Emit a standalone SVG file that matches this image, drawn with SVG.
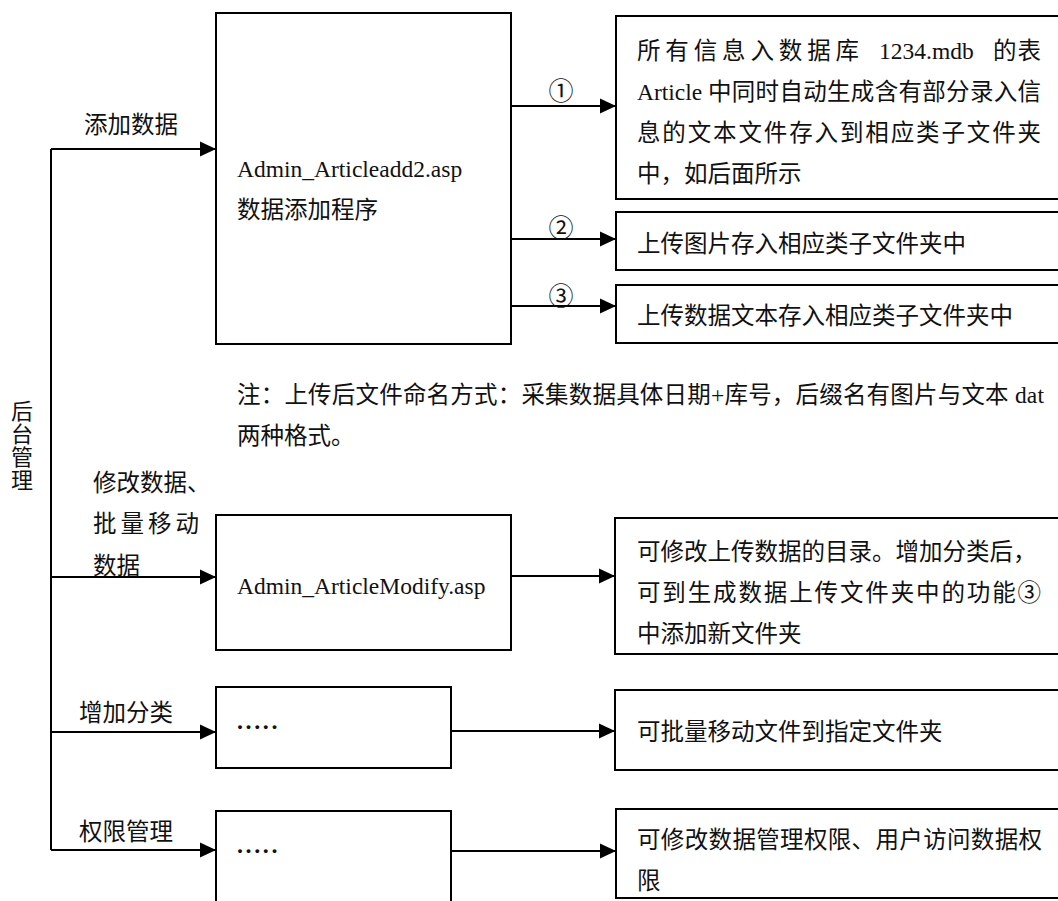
<svg xmlns="http://www.w3.org/2000/svg" width="1058" height="901" viewBox="0 0 1058 901">
<defs>
<style>
.box{fill:#fff;stroke:#000;stroke-width:2}
.ln{fill:none;stroke:#000;stroke-width:2}
.t{font-family:"Liberation Serif","Noto Sans CJK SC",serif;font-size:23.5px;fill:#111}
.v{font-family:"Noto Sans CJK SC",serif;font-size:22px;fill:#111;writing-mode:vertical-rl;text-orientation:upright;letter-spacing:1px}
.c{font-family:"Noto Sans CJK SC","Liberation Serif",serif;font-size:25px;fill:#111;text-anchor:middle}
.d{font-family:"Liberation Serif",serif;font-size:24px;font-weight:bold;fill:#111;letter-spacing:2.6px}
</style>
<marker id="ah" markerUnits="userSpaceOnUse" markerWidth="16" markerHeight="16" refX="16" refY="8" orient="auto">
<path d="M0,0.5 L16,8 L0,15.5 Z" fill="#000"/>
</marker>
</defs>
<rect width="1058" height="901" fill="#fff"/>

<g id="connectors">
<path class="ln" d="M51,149 V850"/>
<path class="ln" d="M51,149 H216" marker-end="url(#ah)"/>
<path class="ln" d="M51,577 H216" marker-end="url(#ah)"/>
<path class="ln" d="M51,732 H216" marker-end="url(#ah)"/>
<path class="ln" d="M51,850 H216" marker-end="url(#ah)"/>
<path class="ln" d="M511,106 H616" marker-end="url(#ah)"/>
<path class="ln" d="M511,239 H616" marker-end="url(#ah)"/>
<path class="ln" d="M511,306 H616" marker-end="url(#ah)"/>
<path class="ln" d="M511,576 H615" marker-end="url(#ah)"/>
<path class="ln" d="M451,731 H615" marker-end="url(#ah)"/>
<path class="ln" d="M451,851 H616" marker-end="url(#ah)"/>
<text class="c" x="561" y="100">①</text>
<text class="c" x="561" y="237">②</text>
<text class="c" x="561" y="305">③</text>
</g>

<g id="root-label">
<text class="v" x="22" y="400">后台管理</text>
</g>

<g id="edge-labels">
<text class="t" x="84" y="133">添加数据</text>
<text class="t" x="93" y="491">修改数据、</text>
<text class="t" x="93" y="532" textLength="106" lengthAdjust="spacing">批量移动</text>
<text class="t" x="93" y="574">数据</text>
<text class="t" x="79" y="721">增加分类</text>
<text class="t" x="79" y="840">权限管理</text>
</g>

<g id="node-add">
<rect class="box" x="216" y="13" width="295" height="331"/>
<text class="t" x="237" y="177">Admin_Articleadd2.asp</text>
<text class="t" x="237" y="218">数据添加程序</text>
</g>

<g id="node-db">
<rect class="box" x="616" y="16" width="460" height="183"/>
<text class="t" x="637" y="59" textLength="222" lengthAdjust="spacing">所有信息入数据库</text>
<text class="t" x="879" y="59">1234.mdb</text>
<text class="t" x="993" y="59" textLength="48" lengthAdjust="spacing">的表</text>
<text class="t" x="637" y="100">Article</text>
<text class="t" x="708" y="100" textLength="333" lengthAdjust="spacing">中同时自动生成含有部分录入信</text>
<text class="t" x="637" y="141" textLength="404" lengthAdjust="spacing">息的文本文件存入到相应类子文件夹</text>
<text class="t" x="637" y="182">中，如后面所示</text>
</g>

<g id="node-img">
<rect class="box" x="616" y="212" width="460" height="58"/>
<text class="t" x="637" y="252">上传图片存入相应类子文件夹中</text>
</g>

<g id="node-txt">
<rect class="box" x="616" y="285" width="460" height="58"/>
<text class="t" x="637" y="324">上传数据文本存入相应类子文件夹中</text>
</g>

<g id="note">
<text class="t" x="237" y="403" textLength="807" lengthAdjust="spacing">注：上传后文件命名方式：采集数据具体日期+库号，后缀名有图片与文本 dat</text>
<text class="t" x="237" y="444">两种格式。</text>
</g>

<g id="node-modify">
<rect class="box" x="216" y="515" width="295" height="135"/>
<text class="t" x="237" y="594">Admin_ArticleModify.asp</text>
</g>

<g id="node-modify-desc">
<rect class="box" x="615" y="518" width="460" height="136"/>
<text class="t" x="637" y="560">可修改上传数据的目录。增加分类后，</text>
<text class="t" x="637" y="601" textLength="404" lengthAdjust="spacing">可到生成数据上传文件夹中的功能③</text>
<text class="t" x="637" y="642">中添加新文件夹</text>
</g>

<g id="node-category">
<rect class="box" x="216" y="687" width="235" height="81"/>
<text class="d" x="237" y="729">.....</text>
</g>

<g id="node-category-desc">
<rect class="box" x="615" y="690" width="460" height="80"/>
<text class="t" x="637" y="740">可批量移动文件到指定文件夹</text>
</g>

<g id="node-perm">
<rect class="box" x="216" y="811" width="235" height="100"/>
<text class="d" x="237" y="853">.....</text>
</g>

<g id="node-perm-desc">
<rect class="box" x="616" y="809" width="460" height="89"/>
<text class="t" x="637" y="848" textLength="405" lengthAdjust="spacing">可修改数据管理权限、用户访问数据权</text>
<text class="t" x="637" y="889">限</text>
</g>
</svg>
